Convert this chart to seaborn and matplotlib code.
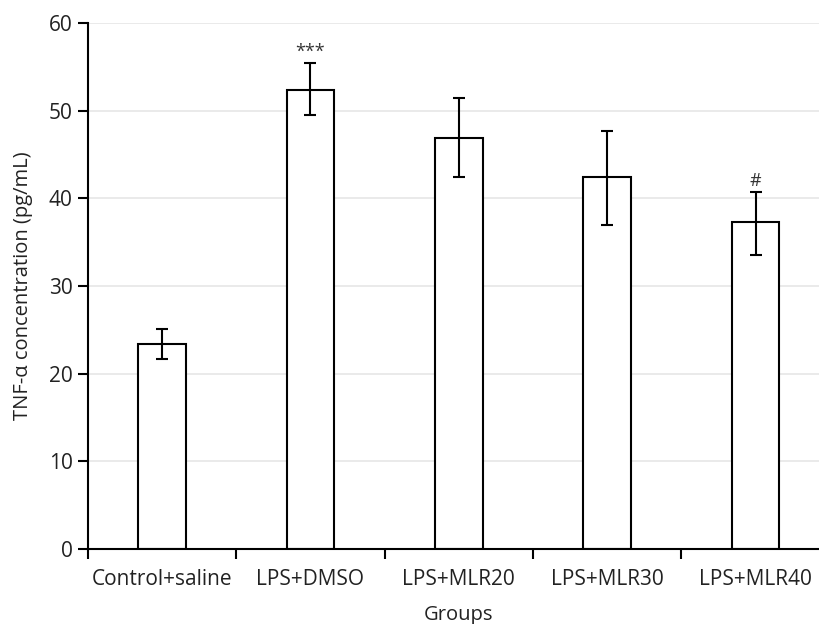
import numpy as np
import pandas as pd
import matplotlib
matplotlib.use("Agg")
import matplotlib.pyplot as plt
import seaborn as sns

# --- data ---
groups = ["Control+saline", "LPS+DMSO", "LPS+MLR20", "LPS+MLR30", "LPS+MLR40"]
tnf_mean = [23.4, 52.4, 46.9, 42.4, 37.3]
err_low = [21.7, 49.5, 42.4, 37.0, 33.6]
err_high = [25.1, 55.4, 51.4, 47.7, 40.7]
marks = ["", "***", "", "", "#"]

sns.set_style("white")
plt.rcParams["font.family"] = ["Open Sans", "DejaVu Sans"]
plt.rcParams["text.color"] = "#222222"
plt.rcParams["xtick.labelcolor"] = "#222222"
plt.rcParams["ytick.labelcolor"] = "#222222"
plt.rcParams["axes.labelcolor"] = "#222222"

df = pd.DataFrame({"Group": groups, "TNF": tnf_mean})

fig = plt.figure(figsize=(8.2, 6.24), dpi=100)
ax = fig.add_axes([0.107, 0.12, 0.905, 0.843])

sns.barplot(data=df, x="Group", y="TNF", order=groups, color="white",
            edgecolor="black", linewidth=1.5, width=0.32, errorbar=None, ax=ax)

pos = np.arange(len(groups))
lo = np.array(tnf_mean) - np.array(err_low)
hi = np.array(err_high) - np.array(tnf_mean)
ax.errorbar(pos, tnf_mean, yerr=[lo, hi], fmt="none", ecolor="black",
            elinewidth=1.5, capsize=4.5, capthick=1.5, zorder=5)

# significance marks above the error bars
for p, top, m in zip(pos, err_high, marks):
    if m:
        ax.text(p, top + 0.3, m, ha="center", va="bottom", fontsize=13, color="#333333")

ax.set_xlim(-0.5, len(groups) - 0.5)
ax.set_ylim(0, 60)
ax.set_yticks(range(0, 61, 10))
ax.yaxis.grid(True, color="#e6e6e6", linewidth=1.2)
ax.set_axisbelow(True)

# ticks between categories
ax.set_xticks(np.arange(-0.5, len(groups), 1), minor=True)
ax.tick_params(axis="x", which="major", length=0, pad=14, labelsize=15)
ax.tick_params(axis="x", which="minor", length=7, width=1.5, direction="out", color="black")
ax.tick_params(axis="y", length=7, width=1.5, direction="out", color="black", labelsize=15, pad=4)
ax.xaxis.set_ticks_position("bottom")
ax.yaxis.set_ticks_position("left")

for s in ["top", "right"]:
    ax.spines[s].set_visible(False)
for s in ["left", "bottom"]:
    ax.spines[s].set_color("black")
    ax.spines[s].set_linewidth(1.5)

ax.set_xlabel("Groups", fontsize=14.5, labelpad=11)
ax.set_ylabel("TNF-α concentration (pg/mL)", fontsize=14.5, labelpad=11)

fig.savefig("out.png", dpi=100)
